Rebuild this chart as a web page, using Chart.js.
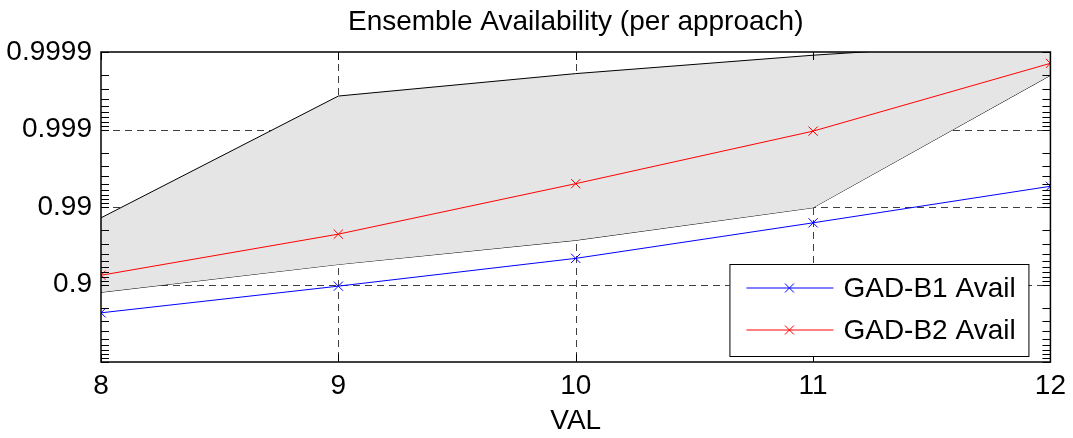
<!DOCTYPE html>
<html>
<head>
<meta charset="utf-8">
<title>Ensemble Availability</title>
<script src="https://cdn.jsdelivr.net/npm/chart.js@4/dist/chart.umd.min.js"></script>
<style>
    html, body { margin: 0; padding: 0; background: #fff; }
    #wrap { width: 1073px; height: 438px; }
</style>
</head>
<body>
<div id="wrap"><canvas id="availChart" width="1073" height="438"></canvas></div>
<script>
// values (availability per VAL)
const valSteps = [8, 9, 10, 11, 12];
const b1Avail = [0.768, 0.895, 0.954, 0.984, 0.9946];
const b2Avail = [0.924, 0.9776, 0.995, 0.99895, 0.99986];
const bandUpper = [0.9862, 0.99963, 0.99981, 0.99989, 0.99993];
const bandLower = [0.874, 0.945, 0.9731, 0.9898, 0.9998];

// y axis: unavailability on a reversed log scale, labelled as availability
const yMajorValues = [0.1, 0.01, 0.001, 0.0001];
const yTickLabels = ["0.9", "0.99", "0.999", "0.9999"];

const FONT = "'Liberation Sans', Arial, sans-serif";

function toSeries(avail) {
    return avail.map((a, i) => ({ x: valSteps[i], y: 1 - a }));
}

function majorLabel(v) {
    const i = yMajorValues.findIndex(m => Math.abs(Math.log10(v) - Math.log10(m)) < 1e-6);
    return i >= 0 ? yTickLabels[i] : "";
}

const matlabFrame = {
    id: "matlabFrame",
    beforeDatasetsDraw(chart) {
        const { ctx, chartArea: a, scales: { x, y } } = chart;
        ctx.save();
        ctx.strokeStyle = "rgba(0,0,0,0.75)";
        ctx.lineWidth = 1;
        ctx.setLineDash([7, 5]);
        valSteps.slice(1, -1).forEach(v => {
            const px = Math.round(x.getPixelForValue(v)) + 0.5;
            ctx.beginPath(); ctx.moveTo(px, a.top); ctx.lineTo(px, a.bottom); ctx.stroke();
        });
        yMajorValues.slice(0, -1).forEach(v => {
            const py = Math.round(y.getPixelForValue(v)) + 0.5;
            ctx.beginPath(); ctx.moveTo(a.left, py); ctx.lineTo(a.right, py); ctx.stroke();
        });
        ctx.restore();
    },
    afterDatasetsDraw(chart) {
        const { ctx, chartArea: a, scales: { x, y } } = chart;
        const tick = 8;
        ctx.save();
        ctx.strokeStyle = "#000";
        ctx.lineWidth = 1;
        ctx.beginPath();
        x.ticks.forEach(t => {
            const px = Math.round(x.getPixelForValue(t.value)) + 0.5;
            ctx.moveTo(px, a.bottom); ctx.lineTo(px, a.bottom - tick);
            ctx.moveTo(px, a.top); ctx.lineTo(px, a.top + tick);
        });
        y.ticks.forEach(t => {
            const py = Math.round(y.getPixelForValue(t.value)) + 0.5;
            ctx.moveTo(a.left, py); ctx.lineTo(a.left + tick, py);
            ctx.moveTo(a.right, py); ctx.lineTo(a.right - tick, py);
        });
        ctx.stroke();
        ctx.lineWidth = 1.5;
        ctx.strokeRect(a.left, a.top, a.right - a.left, a.bottom - a.top);
        ctx.restore();
    },
    afterDraw(chart) {
        // legend box sits inside the axes, bottom right
        const { ctx, chartArea: a } = chart;
        const entries = chart.data.datasets.filter(d => d.inLegend);
        const w = 299, rowH = 42, h = 92;
        const right = a.right - 22, bottom = a.bottom - 6;
        const left = right - w, top = bottom - h;
        ctx.save();
        ctx.fillStyle = "#fff";
        ctx.fillRect(left, top, w, h);
        ctx.strokeStyle = "#000";
        ctx.lineWidth = 1;
        ctx.strokeRect(left + 0.5, top + 0.5, w, h);
        ctx.font = `28px ${FONT}`;
        ctx.textBaseline = "middle";
        entries.forEach((d, i) => {
            const cy = top + 24 + i * rowH;
            ctx.strokeStyle = d.borderColor;
            ctx.lineWidth = 1;
            ctx.beginPath(); ctx.moveTo(left + 17, cy); ctx.lineTo(left + 104, cy); ctx.stroke();
            const mx = left + 60, r = 4.5;
            ctx.beginPath();
            ctx.moveTo(mx - r, cy - r); ctx.lineTo(mx + r, cy + r);
            ctx.moveTo(mx - r, cy + r); ctx.lineTo(mx + r, cy - r);
            ctx.stroke();
            ctx.fillStyle = "#000";
            ctx.fillText(d.label, left + 114, cy + 1);
        });
        ctx.restore();
    },
};

function buildYTicks(scale) {
    const ticks = [];
    yMajorValues.forEach(m => {
        for (let k = 1; k <= 9; k++) ticks.push({ value: k * m });
    });
    ticks.push({ value: 1 });
    scale.ticks = ticks;
}

const lineStyle = (color) => ({
    borderColor: color,
    backgroundColor: color,
    borderWidth: 1,
    pointStyle: "crossRot",
    pointRadius: 6.5,
    pointBorderWidth: 1,
    pointBorderColor: color,
    fill: false,
    tension: 0,
    inLegend: true,
});

const ctx = document.getElementById("availChart").getContext("2d");
new Chart(ctx, {
    type: "line",
    data: {
        datasets: [
            { label: "GAD-B1 Avail", data: toSeries(b1Avail), ...lineStyle("#0000ff") },
            { label: "GAD-B2 Avail", data: toSeries(b2Avail), ...lineStyle("#ff0000") },
            {
                label: "upper", data: toSeries(bandUpper),
                borderColor: "#000", borderWidth: 1, pointRadius: 0,
                backgroundColor: "#e5e5e5", fill: "+1", tension: 0,
            },
            {
                label: "lower", data: toSeries(bandLower),
                borderColor: "#000", borderWidth: 1, pointRadius: 0,
                fill: false, tension: 0,
            },
        ],
    },
    options: {
        responsive: false,
        animation: false,
        layout: { padding: { left: 0, right: 22, top: 0, bottom: 0 } },
        plugins: {
            legend: { display: false },
            tooltip: { enabled: false },
            title: {
                display: true,
                text: "Ensemble Availability (per approach)",
                color: "#000",
                fullSize: false,
                font: { family: FONT, size: 28, weight: "normal", lineHeight: 1.2 },
                padding: { top: 5, bottom: 13.4 },
            },
        },
        scales: {
            x: {
                type: "linear",
                min: 8,
                max: 12,
                grid: { display: false, drawTicks: false },
                border: { display: false },
                ticks: { stepSize: 1, color: "#000", padding: 7, font: { family: FONT, size: 28 } },
                title: {
                    display: true, text: "VAL", color: "#000",
                    font: { family: FONT, size: 28, lineHeight: 1.2 },
                    padding: { top: 4, bottom: 0 },
                },
                afterFit: s => { s.height = 76; },
            },
            y: {
                type: "logarithmic",
                reverse: true,
                min: 0.0001,
                max: 1,
                grid: { display: false, drawTicks: false },
                border: { display: false },
                afterBuildTicks: buildYTicks,
                ticks: {
                    autoSkip: false,
                    color: "#000",
                    padding: 9,
                    font: { family: FONT, size: 28 },
                    callback: v => majorLabel(v),
                },
                afterFit: s => { s.width = 101; },
            },
        },
    },
    plugins: [matlabFrame],
});
</script>
</body>
</html>
